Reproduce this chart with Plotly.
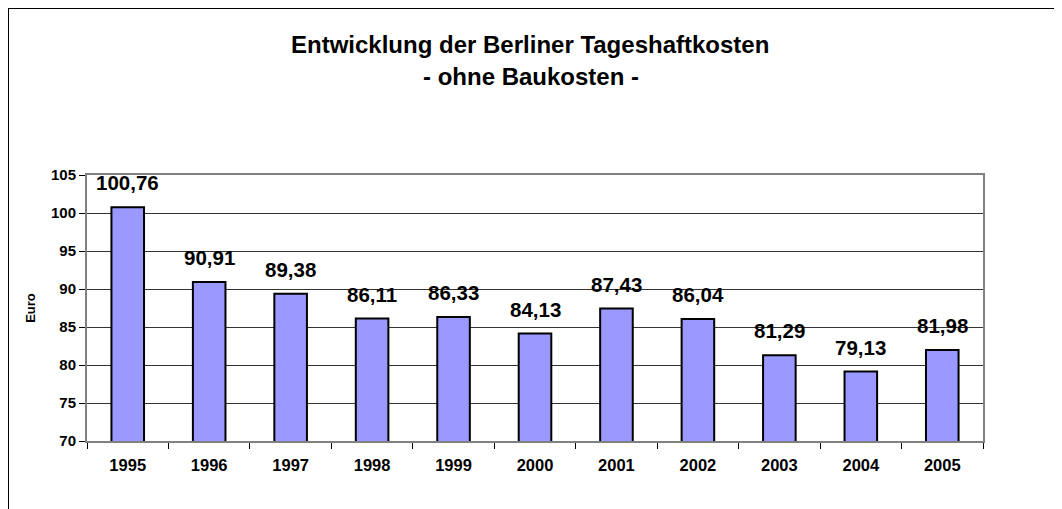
import plotly.graph_objects as go

years = ["1995", "1996", "1997", "1998", "1999", "2000", "2001", "2002", "2003", "2004", "2005"]
costs = [100.76, 90.91, 89.38, 86.11, 86.33, 84.13, 87.43, 86.04, 81.29, 79.13, 81.98]
labels = [f"{v:.2f}".replace(".", ",") for v in costs]
title_line1 = "Entwicklung der Berliner Tageshaftkosten"
title_line2 = "- ohne Baukosten -"
y_title = "Euro"

# the page body adds an 8px offset, so figure coords = screen coords - 8
OFF = 8
W, H = 1062, 509
L, T = 87 - OFF, 175 - OFF
PW, PH = 896, 266
R = W - L - PW
B = H - T - PH


def px(x):
    return (x - OFF - L) / PW


def py(y):
    return (T + PH - (y - OFF)) / PH


FONT = "Liberation Sans, Arial, sans-serif"

fig = go.Figure()
fig.add_trace(go.Bar(
    x=years, y=costs, width=0.4,
    marker=dict(color="#9999FF", line=dict(color="#000000", width=2)),
    hoverinfo="x+y",
))

for i, (v, lab) in enumerate(zip(costs, labels)):
    fig.add_annotation(x=i, y=v, text=f"<b>{lab}</b>", showarrow=False,
                       yanchor="bottom", yshift=11,
                       font=dict(family=FONT, size=20.5, color="#000000"))

fig.add_annotation(xref="paper", yref="paper", x=px(530), y=py(44),
                   text=f"<b>{title_line1}</b>", showarrow=False,
                   xanchor="center", yanchor="middle",
                   font=dict(family=FONT, size=24, color="#000000"))
fig.add_annotation(xref="paper", yref="paper", x=px(531), y=py(77),
                   text=f"<b>{title_line2}</b>", showarrow=False,
                   xanchor="center", yanchor="middle",
                   font=dict(family=FONT, size=24, color="#000000"))

# outer frame (top and left edges visible)
fig.add_shape(type="line", xref="paper", yref="paper",
              x0=px(8), x1=px(W + 40), y0=py(8), y1=py(8),
              line=dict(color="#000000", width=2))
fig.add_shape(type="line", xref="paper", yref="paper",
              x0=px(8), x1=px(8), y0=py(8), y1=py(H + 40),
              line=dict(color="#000000", width=2))

fig.update_layout(
    width=W, height=H,
    margin=dict(l=L, r=R, t=T, b=B),
    paper_bgcolor="#FFFFFF", plot_bgcolor="#FFFFFF",
    showlegend=False,
    font=dict(family=FONT, color="#000000"),
)
fig.update_xaxes(
    type="category", range=[-0.5, len(years) - 0.5], autorange=False,
    tickson="boundaries", ticks="outside", ticklen=6,
    tickcolor="#000000", tickwidth=1,
    showline=True, linecolor="#808080", linewidth=2, mirror=True,
    showgrid=False, tickangle=0,
    tickfont=dict(family=FONT, size=16.5, color="#000000"),
    ticklabelstandoff=8,
    tickprefix="<b>", ticksuffix="</b>",
)
fig.update_yaxes(
    range=[70, 105], autorange=False, dtick=5, tick0=70, ticks="outside", ticklen=6,
    tickcolor="#000000", tickwidth=1,
    showline=True, linecolor="#808080", linewidth=2, mirror=True,
    showgrid=True, gridcolor="#333333", gridwidth=1,
    zeroline=False,
    tickfont=dict(family=FONT, size=15, color="#000000"),
    tickprefix="<b>", ticksuffix="</b>",
    title=dict(text=f"<b>{y_title}</b>", font=dict(family=FONT, size=13, color="#000000"),
               standoff=12),
)

fig.write_html("out.html")
